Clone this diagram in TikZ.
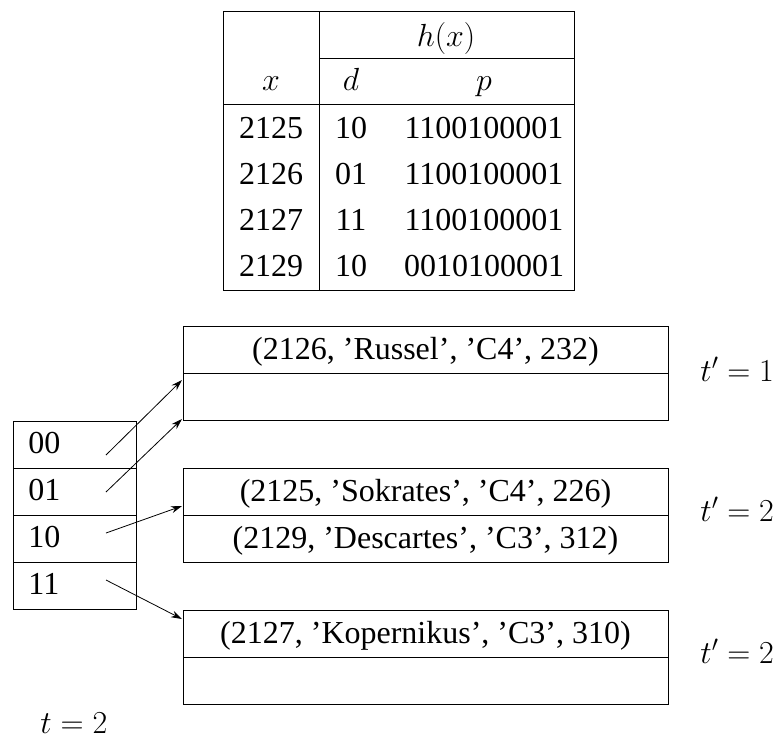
\RequirePackage{fix-cm}
\documentclass[tikz,border=0pt]{standalone}
\usepackage{fontspec}
\setmainfont{Liberation Serif}
\usetikzlibrary{arrows.meta}
\begin{document}
\begin{tikzpicture}[x=1pt,y=-1pt,line width=0.9pt,
  txt/.style={font=\fontsize{32}{38}\selectfont,inner sep=0pt,anchor=base},
  cell/.style={draw,inner sep=0pt,anchor=north west,minimum height=47pt},
  ptr/.style={-{Stealth[length=11pt,width=7pt]},line width=0.8pt}]
\useasboundingbox (0,0) rectangle (781,740);
% ---- table ----
\node[draw,inner sep=0pt,anchor=north west,minimum width=351pt,minimum height=279pt] (tab) at (223,11) {};
\draw (319,11) -- (319,290);
\draw (319,58) -- (574,58);
\draw (223,104) -- (574,104);
\node[txt] (hx) at (446,46) {$h(x)$};
\node[txt] (hxx) at (271,90) {$x$};
\node[txt] (hd) at (351,90) {$d$};
\node[txt] (hp) at (484,90) {$p$};
\foreach \k/\a/\b/\c/\y in {1/2125/10/1100100001/138, 2/2126/01/1100100001/184, 3/2127/11/1100100001/230, 4/2129/10/0010100001/276}{
  \node[txt] (x\k) at (271,\y) {\a};
  \node[txt] (d\k) at (351,\y) {\b};
  \node[txt] (p\k) at (484,\y) {\c};
}
% ---- directory ----
\foreach \n/\y in {00/421,01/468,10/515,11/562}{
  \node[cell,minimum width=123pt] (h\n) at (13,\y) {};
  \node[txt,anchor=base west] (l\n) at (28,\y+32) {\n};
}
% ---- buckets ----
\node[cell,minimum width=485pt] (b1a) at (183,326) {};
\node[cell,minimum width=485pt] (b1b) at (183,373) {};
\node[cell,minimum width=485pt] (b2a) at (183,468) {};
\node[cell,minimum width=485pt] (b2b) at (183,515) {};
\node[cell,minimum width=485pt] (b3a) at (183,610) {};
\node[cell,minimum width=485pt] (b3b) at (183,657) {};
\node[txt] (r1) at (425.5,359) {(2126, ’Russel’, ’C4’, 232)};
\node[txt] (r2) at (425.5,501) {(2125, ’Sokrates’, ’C4’, 226)};
\node[txt] (r3) at (425.5,548) {(2129, ’Descartes’, ’C3’, 312)};
\node[txt] (r4) at (425.5,643) {(2127, ’Kopernikus’, ’C3’, 310)};
\node[txt,anchor=base west] (t1) at (700,381) {$t'=1$};
\node[txt,anchor=base west] (t2) at (700,521) {$t'=2$};
\node[txt,anchor=base west] (t3) at (700,663) {$t'=2$};
\node[txt,anchor=base west] (tg) at (40,733) {$t=2$};
% ---- pointers ----
\coordinate (s00) at (106,455);
\coordinate (s01) at (106,492);
\coordinate (s10) at (106,533);
\coordinate (s11) at (106,580);
\coordinate (e00) at (182,380);
\coordinate (e01) at (182,419);
\coordinate (e10) at (182,506);
\coordinate (e11) at (182,619);
\draw[ptr] (s00) -- (e00);
\draw[ptr] (s01) -- (e01);
\draw[ptr] (s10) -- (e10);
\draw[ptr] (s11) -- (e11);
\end{tikzpicture}
\end{document}
